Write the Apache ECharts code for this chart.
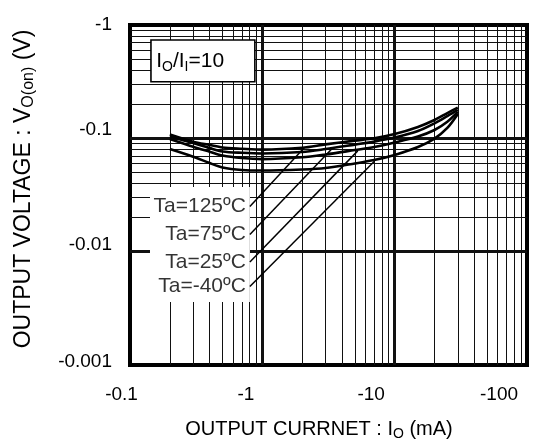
<!DOCTYPE html>
<html><head><meta charset="utf-8">
<script src="https://cdn.jsdelivr.net/npm/echarts@6/dist/echarts.min.js"></script>
<style>html,body{margin:0;padding:0;background:#fff}#c{width:554px;height:443px}</style>
</head><body><div id="c"></div>
<script>
// Output current |IO| (mA)
const currents = [0.2, 0.3, 0.4, 0.5, 0.7, 1, 2, 3, 5, 7, 10, 15, 20, 25, 30];
// Output voltage |VO(on)| (V)
const vTa125 = [0.108, 0.0933, 0.0873, 0.083, 0.081, 0.0795, 0.0825, 0.0885, 0.0955, 0.100, 0.109, 0.126, 0.145, 0.167, 0.187];
const vTa75  = [0.1037, 0.0909, 0.0821, 0.0766, 0.0745, 0.0735, 0.0757, 0.0804, 0.088, 0.0935, 0.1015, 0.116, 0.1356, 0.157, 0.178];
const vTa25  = [0.0986, 0.0843, 0.0762, 0.0705, 0.067, 0.0656, 0.068, 0.072, 0.0788, 0.0837, 0.0918, 0.1037, 0.1184, 0.14, 0.171];
const vTaM40 = [0.0804, 0.0688, 0.0605, 0.0554, 0.0526, 0.052, 0.0531, 0.0547, 0.06, 0.0643, 0.0713, 0.0838, 0.0995, 0.1235, 0.164];
const taLabels = ['Ta=125ºC', 'Ta=75ºC', 'Ta=25ºC', 'Ta=-40ºC'];
const xTickLabels = ['-0.1', '-1', '-10', '-100'];     // decades 10^-1 .. 10^2
const yTickLabels = ['-0.001', '-0.01', '-0.1', '-1']; // decades 10^-3 .. 10^0
const xDecades = [0.1, 1, 10];
const yDecades = [0.001, 0.01, 0.1];
const minorSteps = [2, 3, 4, 5, 6, 7, 8, 9];

const FONT = 'Liberation Sans, Arial, Helvetica, sans-serif';
const curves = [vTa125, vTa75, vTa25, vTaM40];

// grid lines (log grid: decades thick, 2..9 thin)
const gridLines = [];
xDecades.forEach(d => minorSteps.forEach(m => gridLines.push({xAxis: d * m, lineStyle: {width: 1}})));
yDecades.forEach(d => minorSteps.forEach(m => gridLines.push({yAxis: d * m, lineStyle: {width: 1}})));
[1, 10].forEach(v => gridLines.push({xAxis: v, lineStyle: {width: 3}}));
[0.01, 0.1].forEach(v => gridLines.push({yAxis: v, lineStyle: {width: 3}}));

// leader lines from labels to curves
const leaderStartX = 0.805;
const leaderStartY = [0.025, 0.01416, 0.00809, 0.00492];
const leaderEnds = [[2.09, 0.0835], [3.4, 0.082], [5.26, 0.0775], [7.06, 0.063]];

const series = [];
curves.forEach((vals, k) => {
  const s = {
    type: 'line', name: taLabels[k], z: 4,
    data: currents.map((c, i) => [c, vals[i]]),
    symbol: 'none', smooth: 0.3, silent: true,
    lineStyle: {color: '#000', width: 2.6}
  };
  if (k === 0) {
    s.markLine = {
      z: 1, silent: true, symbol: ['none', 'none'], animation: false,
      label: {show: false}, lineStyle: {color: '#111', type: 'solid'},
      emphasis: {disabled: true},
      data: gridLines
    };
    s.markArea = {
      z: 3, silent: true, animation: false,
      emphasis: {disabled: true},
      data: [
        [{coord: [0.1416, 0.0372], itemStyle: {color: '#fff', borderWidth: 0}, label: {show: false}},
         {coord: [0.805, 0.00359]}],
        [{coord: [0.144, 0.737], itemStyle: {color: '#fff', borderColor: '#000', borderWidth: 1.6},
          label: {show: true, position: 'insideLeft', distance: 6,
            formatter: '{m|I}{s|O}{m|/I}{s|I}{m|=10}',
            rich: {
              m: {fontSize: 21, lineHeight: 26, color: '#000', fontFamily: FONT},
              s: {fontSize: 14, lineHeight: 14, verticalAlign: 'bottom', color: '#000', fontFamily: FONT}
            }}},
         {coord: [0.878, 0.316]}]
      ]
    };
  }
  series.push(s);
});
leaderEnds.forEach((e, k) => {
  series.push({
    type: 'line', z: 4, silent: true, symbol: 'none',
    data: [[leaderStartX, leaderStartY[k]], e],
    lineStyle: {color: '#000', width: 1.5}
  });
});
series.push({
  type: 'scatter', z: 5, silent: true, symbolSize: 0,
  data: leaderStartY.map((y, k) => ({value: [leaderStartX, y], name: taLabels[k]})),
  label: {show: true, position: 'left', distance: 4, formatter: p => p.name,
          fontSize: 21, color: '#000', fontFamily: FONT}
});

const option = {
  animation: false,
  textStyle: {fontFamily: FONT},
  grid: {left: 130, top: 25, width: 397, height: 340, show: true,
         borderColor: '#000', borderWidth: 4, backgroundColor: 'transparent',
         outerBoundsMode: 'none'},
  xAxis: {
    type: 'log', logBase: 10, min: 0.1, max: 100,
    axisLine: {show: false}, axisTick: {show: false}, splitLine: {show: false},
    axisLabel: {
      margin: 20, color: '#000', fontSize: 19,
      formatter: v => { const i = Math.round(Math.log10(v)) + 1; return '{x' + i + '|' + xTickLabels[i] + '}'; },
      rich: {
        x0: {fontSize: 19, color: '#000', padding: [0, 17, 0, 0]},
        x1: {fontSize: 19, color: '#000', padding: [0, 33, 0, 0]},
        x2: {fontSize: 19, color: '#000', padding: [0, 47, 0, 0]},
        x3: {fontSize: 19, color: '#000', padding: [0, 56, 0, 0]}
      }
    },
    name: '{m|OUTPUT CURRNET : I}{s|O}{m| (mA)}',
    nameLocation: 'middle', nameGap: 52, nameMoveOverlap: false,
    nameTextStyle: {
      padding: [0, 19, 0, 0],
      rich: {
        m: {fontSize: 20, lineHeight: 24, color: '#000', fontFamily: FONT},
        s: {fontSize: 14, lineHeight: 14, verticalAlign: 'bottom', color: '#000', fontFamily: FONT}
      }
    }
  },
  yAxis: {
    type: 'log', logBase: 10, min: 0.001, max: 1,
    axisLine: {show: false}, axisTick: {show: false}, splitLine: {show: false},
    axisLabel: {
      margin: 18, color: '#000', fontSize: 19,
      formatter: v => { const i = Math.round(Math.log10(v)) + 3; return '{y' + i + '|' + yTickLabels[i] + '}'; },
      rich: {
        y0: {fontSize: 19, color: '#000', padding: [0, 0, 6, 0]},
        y1: {fontSize: 19, color: '#000', padding: [0, 0, 14, 0]},
        y2: {fontSize: 19, color: '#000', padding: [0, 0, 17, 0]},
        y3: {fontSize: 19, color: '#000', padding: [0, 0, 0, 0]}
      }
    },
    name: '{m|OUTPUT VOLTAGE : V}{s|O(on)}{m| (V)}',
    nameLocation: 'middle', nameGap: 93, nameMoveOverlap: false,
    nameTextStyle: {
      padding: [0, 0, 0, 12],
      rich: {
        m: {fontSize: 23, lineHeight: 27, color: '#000', fontFamily: FONT},
        s: {fontSize: 16, lineHeight: 16, verticalAlign: 'bottom', color: '#000', fontFamily: FONT}
      }
    }
  },
  series: series
};
const chart = echarts.init(document.getElementById('c'), null, {renderer: 'canvas'});
chart.setOption(option);
</script>
</body></html>
